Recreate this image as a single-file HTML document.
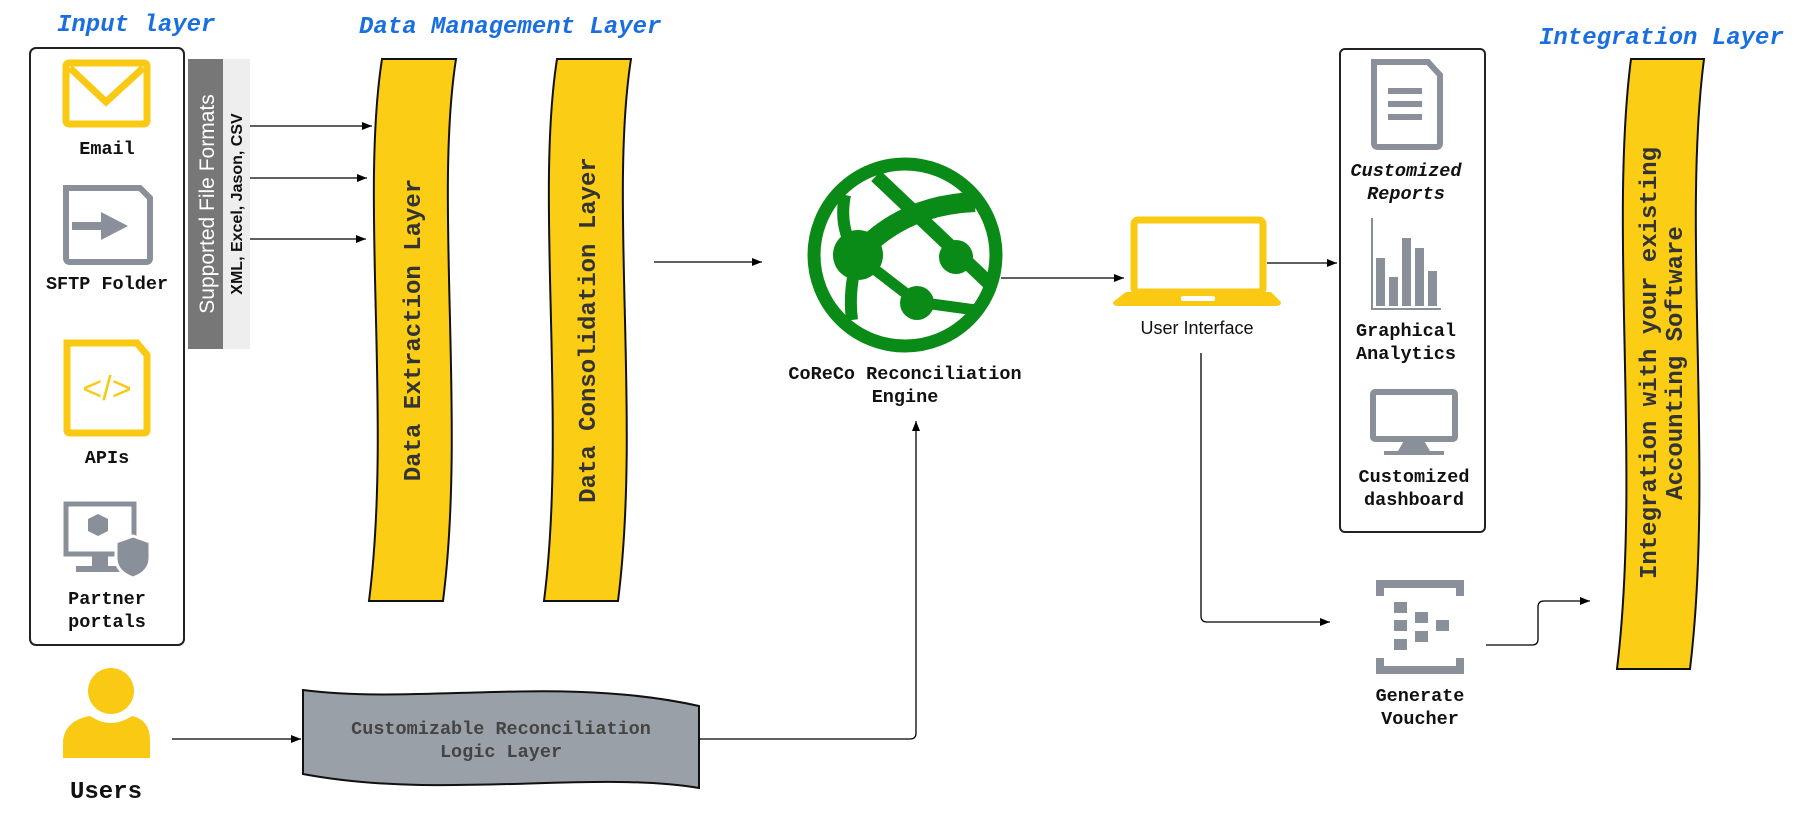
<!DOCTYPE html>
<html><head><meta charset="utf-8"><style>
html,body{margin:0;padding:0;background:#fff;}
svg{display:block}
.m{font-family:"Liberation Mono",monospace;font-weight:bold;}
.t{font-family:"Liberation Mono",monospace;font-weight:bold;font-style:italic;fill:#1a6fe0;font-size:24px;}
.l{font-size:18.5px;fill:#111;text-anchor:middle;}
</style></head><body>
<svg width="1802" height="814" viewBox="0 0 1802 814" xmlns="http://www.w3.org/2000/svg">
<defs>
<marker id="a" viewBox="0 0 10 10" refX="10" refY="5" markerWidth="10" markerHeight="8" markerUnits="userSpaceOnUse" orient="auto" preserveAspectRatio="none"><path d="M0,0 L10,5 L0,10 Z" fill="#000"/></marker>
<clipPath id="gc"><circle cx="905" cy="255" r="90"/></clipPath>
</defs>
<text class="t" x="57" y="31">Input layer</text>
<text class="t" x="359" y="33">Data Management Layer</text>
<text class="t" x="1539" y="44">Integration Layer</text>

<rect x="30" y="48" width="154" height="597" rx="6" fill="#fff" stroke="#222" stroke-width="2"/>
<rect x="66" y="63" width="81" height="61" rx="3" fill="none" stroke="#f9c913" stroke-width="7"/>
<path d="M70,68 L106,102 L143,68" fill="none" stroke="#f9c913" stroke-width="7"/>
<text class="m l" x="107" y="154">Email</text>
<path d="M66,188 L140,188 L150,198 L150,258 Q150,262 146,262 L70,262 Q66,262 66,258 Z" fill="none" stroke="#8a9099" stroke-width="6"/>
<path d="M72,222 L101,222 L101,212 L128,226 L101,240 L101,230 L72,230 Z" fill="#8a9099"/>
<text class="m l" x="107" y="289">SFTP Folder</text>
<path d="M67,343 L137,343 L147,355 L147,430 Q147,433 144,433 L70,433 Q67,433 67,430 Z" fill="none" stroke="#f9c913" stroke-width="7"/>
<text x="107" y="400" text-anchor="middle" font-family="Liberation Sans,sans-serif" font-size="34" fill="#f9c913">&lt;/&gt;</text>
<text class="m l" x="107" y="463">APIs</text>
<rect x="66" y="504" width="68" height="50" fill="none" stroke="#8a9099" stroke-width="5"/>
<rect x="92" y="554" width="16" height="12" fill="#8a9099"/>
<rect x="76" y="566" width="48" height="6" fill="#8a9099"/>
<path d="M98,514 L108,519 L108,531 L98,536 L88,531 L88,519 Z" fill="#8a9099"/>
<path d="M133,536 L150,542 L150,558 Q150,572 133,578 Q116,572 116,558 L116,542 Z" fill="#8a9099" stroke="#fff" stroke-width="3"/>
<text class="m l" x="107" y="604">Partner</text>
<text class="m l" x="107" y="627">portals</text>

<circle cx="111" cy="691" r="23" fill="#f9c913"/>
<path d="M63,758 L63,740 Q66,720 90,716 Q111,730 132,716 Q150,720 150,740 L150,758 Z" fill="#f9c913"/>
<text class="m" x="106" y="798" font-size="24" text-anchor="middle" fill="#111">Users</text>
<line x1="172" y1="739" x2="301" y2="739" stroke="#000" stroke-width="1.3" marker-end="url(#a)"/>

<rect x="188" y="59" width="35" height="290" fill="#777"/>
<rect x="223" y="59" width="27" height="290" fill="#eee"/>
<text transform="translate(214,204) rotate(-90)" text-anchor="middle" font-family="Liberation Sans,sans-serif" font-size="21" fill="#fff">Supported File Formats</text>
<text transform="translate(242,204) rotate(-90)" text-anchor="middle" font-family="Liberation Sans,sans-serif" font-weight="bold" font-size="16" fill="#111">XML, Excel, Jason, CSV</text>
<line x1="250" y1="126" x2="372" y2="126" stroke="#000" stroke-width="1.3" marker-end="url(#a)"/>
<line x1="250" y1="178" x2="367" y2="178" stroke="#000" stroke-width="1.3" marker-end="url(#a)"/>
<line x1="250" y1="239" x2="366" y2="239" stroke="#000" stroke-width="1.3" marker-end="url(#a)"/>

<path d="M382,59 C360,200 392,420 369,601 L443,601 C466,420 434,200 456,59 Z" fill="#fbcd14" stroke="#111" stroke-width="2"/>
<text class="m" transform="translate(420,330) rotate(-90)" text-anchor="middle" font-size="24" fill="#333">Data Extraction Layer</text>
<path d="M557,59 C535,200 567,420 544,601 L618,601 C641,420 609,200 631,59 Z" fill="#fbcd14" stroke="#111" stroke-width="2"/>
<text class="m" transform="translate(595,330) rotate(-90)" text-anchor="middle" font-size="24" fill="#333">Data Consolidation Layer</text>
<line x1="654" y1="262" x2="762" y2="262" stroke="#000" stroke-width="1.3" marker-end="url(#a)"/>

<circle cx="905" cy="255" r="91" fill="none" stroke="#0a8a16" stroke-width="13"/>
<g fill="none" stroke="#0a8a16" clip-path="url(#gc)">
<path d="M876,176 L990,284" stroke-width="14"/>
<path d="M855,258 Q900,205 975,202" stroke-width="20"/>
<path d="M845,195 Q838,230 858,256 Q848,290 852,320" stroke-width="12"/>
<path d="M860,258 L917,302 L990,312" stroke-width="11"/>
</g>
<circle cx="858" cy="255" r="25" fill="#0a8a16"/>
<circle cx="956" cy="257" r="17" fill="#0a8a16"/>
<circle cx="917" cy="303" r="17" fill="#0a8a16"/>
<text class="m l" x="905" y="379">CoReCo Reconciliation</text>
<text class="m l" x="905" y="402">Engine</text>
<line x1="1001" y1="278" x2="1124" y2="278" stroke="#000" stroke-width="1.3" marker-end="url(#a)"/>

<path d="M303,690 C420,705 560,675 699,706 L699,788 C590,770 440,800 303,774 Z" fill="#9aa0a8" stroke="#111" stroke-width="2"/>
<text class="m" x="501" y="734" text-anchor="middle" font-size="18.5" fill="#444">Customizable Reconciliation</text>
<text class="m" x="501" y="757" text-anchor="middle" font-size="18.5" fill="#444">Logic Layer</text>
<path d="M699,739 L910,739 Q916,739 916,733 L916,421" fill="none" stroke="#000" stroke-width="1.3" marker-end="url(#a)"/>

<rect x="1134" y="220" width="129" height="72" rx="4" fill="none" stroke="#f9c913" stroke-width="7"/>
<path d="M1126,292 L1271,292 L1281,302 Q1281,306 1276,306 L1118,306 Q1113,306 1113,302 Z" fill="#f9c913"/>
<rect x="1181" y="296" width="34" height="5" rx="2" fill="#fff"/>
<text x="1197" y="334" text-anchor="middle" font-family="Liberation Sans,sans-serif" font-size="18" fill="#111">User Interface</text>
<line x1="1267" y1="263" x2="1337" y2="263" stroke="#000" stroke-width="1.3" marker-end="url(#a)"/>
<path d="M1201,353 L1201,616 Q1201,622 1207,622 L1330,622" fill="none" stroke="#000" stroke-width="1.3" marker-end="url(#a)"/>

<rect x="1340" y="49" width="145" height="483" rx="5" fill="#fff" stroke="#222" stroke-width="2"/>
<path d="M1374,62 L1428,62 L1440,75 L1440,143 Q1440,147 1436,147 L1378,147 Q1374,147 1374,143 Z" fill="none" stroke="#8a9099" stroke-width="6"/>
<rect x="1388" y="88" width="34" height="6" fill="#8a9099"/><rect x="1388" y="101" width="34" height="6" fill="#8a9099"/><rect x="1388" y="114" width="34" height="6" fill="#8a9099"/>
<text class="m l" x="1406" y="176" font-style="italic">Customized</text>
<text class="m l" x="1406" y="199" font-style="italic">Reports</text>
<path d="M1372,218 L1372,309 L1441,309" fill="none" stroke="#8a9099" stroke-width="2"/>
<rect x="1376" y="258" width="9" height="48" fill="#8a9099"/>
<rect x="1389" y="277" width="9" height="29" fill="#8a9099"/>
<rect x="1402" y="238" width="9" height="68" fill="#8a9099"/>
<rect x="1415" y="248" width="9" height="58" fill="#8a9099"/>
<rect x="1428" y="271" width="9" height="35" fill="#8a9099"/>
<text class="m l" x="1406" y="336">Graphical</text>
<text class="m l" x="1406" y="359">Analytics</text>
<rect x="1373" y="392" width="82" height="47" rx="2" fill="none" stroke="#8a9099" stroke-width="6"/>
<path d="M1405,439 L1423,439 L1430,451 L1398,451 Z" fill="#8a9099"/>
<rect x="1384" y="451" width="60" height="4" fill="#8a9099"/>
<text class="m l" x="1414" y="482">Customized</text>
<text class="m l" x="1414" y="505">dashboard</text>

<path d="M1376,596 L1376,580 L1464,580 L1464,596 L1456,596 L1456,588 L1384,588 L1384,596 Z" fill="#8a9099"/>
<path d="M1376,658 L1376,674 L1464,674 L1464,658 L1456,658 L1456,666 L1384,666 L1384,658 Z" fill="#8a9099"/>
<rect x="1394" y="602" width="13" height="11" fill="#8a9099"/>
<rect x="1394" y="620" width="13" height="11" fill="#8a9099"/>
<rect x="1394" y="639" width="13" height="11" fill="#8a9099"/>
<rect x="1415" y="612" width="13" height="11" fill="#8a9099"/>
<rect x="1415" y="631" width="13" height="11" fill="#8a9099"/>
<rect x="1436" y="620" width="13" height="11" fill="#8a9099"/>
<text class="m l" x="1420" y="701">Generate</text>
<text class="m l" x="1420" y="724">Voucher</text>
<path d="M1486,645 L1532,645 Q1538,645 1538,639 L1538,607 Q1538,601 1544,601 L1590,601" fill="none" stroke="#000" stroke-width="1.3" marker-end="url(#a)"/>

<path d="M1631,59 C1609,230 1641,470 1617,669 L1690,669 C1714,470 1682,230 1704,59 Z" fill="#fbcd14" stroke="#111" stroke-width="2"/>
<text class="m" transform="translate(1656,363) rotate(-90)" text-anchor="middle" font-size="24" fill="#333">Integration with your existing</text>
<text class="m" transform="translate(1682,363) rotate(-90)" text-anchor="middle" font-size="24" fill="#333">Accounting Software</text>
</svg>
</body></html>
